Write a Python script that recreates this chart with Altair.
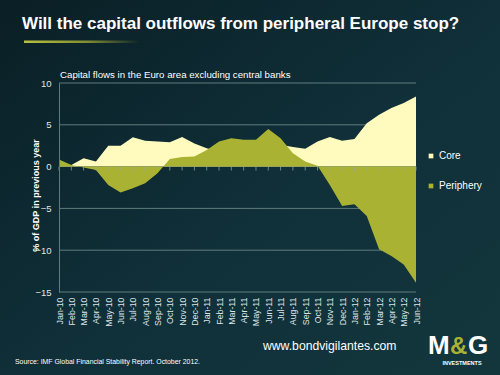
import altair as alt
import pandas as pd

# ---------------- data ----------------
months = ["Jan-10", "Feb-10", "Mar-10", "Apr-10", "May-10", "Jun-10", "Jul-10", "Aug-10",
          "Sep-10", "Oct-10", "Nov-10", "Dec-10", "Jan-11", "Feb-11", "Mar-11", "Apr-11",
          "May-11", "Jun-11", "Jul-11", "Aug-11", "Sep-11", "Oct-11", "Nov-11", "Dec-11",
          "Jan-12", "Feb-12", "Mar-12", "Apr-12", "May-12", "Jun-12"]
core = [0.4, 0.2, 1.0, 0.6, 2.5, 2.5, 3.5, 3.1, 3.0, 2.9, 3.55, 2.75, 2.2, 1.8, 2.2, 2.6,
        2.9, 3.1, 2.6, 2.35, 2.15, 3.0, 3.55, 3.1, 3.3, 5.2, 6.2, 7.0, 7.6, 8.4]
periphery = [0.84, 0.2, -0.1, -0.4, -2.2, -3.1, -2.6, -2.0, -0.8, 0.9, 1.15, 1.2, 2.0, 3.0,
             3.4, 3.2, 3.2, 4.5, 3.4, 1.6, 0.6, 0.1, -2.2, -4.7, -4.5, -5.9, -9.9, -10.7,
             -11.7, -13.9]
series_names = ["Core", "Periphery"]
series_colors = ["#fffbbf", "#a9b233"]
y_ticks = [-15, -10, -5, 0, 5, 10]
grid_values = [-15, -10, -5, 5, 10]
y_domain = [-15, 10]

TITLE = "Will the capital outflows from peripheral Europe stop?"
SUBTITLE = "Capital flows in the Euro area excluding central banks"
Y_TITLE = "% of GDP in previous year"
URL = "www.bondvigilantes.com"
SOURCE = "Source: IMF  Global Financial  Stability Report. October 2012."

rows = []
for m, c, p in zip(months, core, periphery):
    rows.append({"month": m, "series": "Core", "value": c})
    rows.append({"month": m, "series": "Periphery", "value": p})
df = pd.DataFrame(rows)
month_df = pd.DataFrame({"month": months})
grid_df = pd.DataFrame({"v": grid_values})
one = pd.DataFrame({"k": [0]})

W, H = 357, 209
PL, PT = 59, 83
BG = "#0f2a31"
GRID = "#5f7c7e"
LABEL = "#dfe7e7"
FONT = "Liberation Sans"

x_scale = alt.Scale(type="point", padding=0)
y_scale = alt.Scale(domain=y_domain, nice=False, zero=False)

x_axis = alt.Axis(title=None, labelAngle=270, labelFontSize=8.8, labelColor=LABEL,
                  ticks=False, domain=False, grid=False, labelPadding=5,
                  labelFont=FONT, zindex=2)
y_axis = alt.Axis(values=y_ticks, title=Y_TITLE, grid=False,
                  domainColor=GRID, ticks=False, labelFontSize=9.5,
                  labelColor=LABEL, labelPadding=8, labelFont=FONT,
                  titleFontSize=9, titleFontWeight="bold", titleColor="white",
                  titleFont=FONT, titleX=35 - PL, titleY=195 - PT,
                  titleAlign="center", titleBaseline="middle", zindex=2)

bg = alt.Chart(one).mark_rect(
    color=alt.LinearGradient(gradient="linear",
                             stops=[alt.GradientStop(color="#0a1f25", offset=0),
                                    alt.GradientStop(color="#10303a", offset=0.55),
                                    alt.GradientStop(color="#13363c", offset=1)],
                             x1=0, x2=1, y1=0, y2=1)
).encode(x=alt.value(-PL), x2=alt.value(500 - PL), y=alt.value(-PT), y2=alt.value(375 - PT))

underline = alt.Chart(one).mark_rect(
    color=alt.LinearGradient(gradient="linear",
                             stops=[alt.GradientStop(color="#b9c03e", offset=0),
                                    alt.GradientStop(color="#7f8c33", offset=0.55),
                                    alt.GradientStop(color="#0c242a", offset=1)],
                             x1=0, x2=1, y1=0, y2=0)
).encode(x=alt.value(24 - PL), x2=alt.value(140 - PL), y=alt.value(40.5 - PT), y2=alt.value(43 - PT))

grid = alt.Chart(grid_df).mark_rule(color=GRID, strokeWidth=1).encode(
    y=alt.Y("v:Q", scale=y_scale, axis=y_axis),
    x=alt.value(0), x2=alt.value(W)
)

areas = alt.Chart(df).mark_area(opacity=1, strokeWidth=0).encode(
    x=alt.X("month:O", sort=months, scale=x_scale, axis=x_axis),
    y=alt.Y("value:Q", stack=None, scale=y_scale, axis=y_axis),
    color=alt.Color("series:N",
                    scale=alt.Scale(domain=series_names, range=series_colors),
                    legend=alt.Legend(orient="none", legendX=426 - PL, legendY=151 - PT,
                                      title=None, symbolType="square", symbolSize=22,
                                      symbolStrokeWidth=0, labelFontSize=10,
                                      labelColor="white", labelFont=FONT,
                                      rowPadding=20, labelOffset=3, zindex=2)),
    order=alt.Order("series:N")
)

zero_ticks = alt.Chart(month_df).mark_tick(orient="vertical", size=4, thickness=1,
                                           color="#9aabab", yOffset=2).encode(
    x=alt.X("month:O", sort=months, scale=x_scale, axis=x_axis),
    y=alt.datum(0)
)


def txt(s, x, y, size, weight="normal", color="white", align="left"):
    return alt.Chart(one).mark_text(text=s, fontSize=size, fontWeight=weight, color=color,
                                    align=align, baseline="alphabetic", font=FONT).encode(
        x=alt.value(x - PL), y=alt.value(y - PT))


title = txt(TITLE, 22, 29, 17, weight="bold")
subtitle = txt(SUBTITLE, 60, 77.5, 9.7)
url = txt(URL, 263, 350, 12.2)
source = txt(SOURCE, 15, 364, 6.9)
logo_m = txt("M", 428, 354, 26, weight="bold")
logo_amp = txt("&", 450, 354, 24, weight="bold", color="#a9b233")
logo_g = txt("G", 468, 354, 26, weight="bold")
logo_inv = txt("INVESTMENTS", 462, 365, 5.5, weight="bold", align="center")

chart = alt.layer(bg, underline, grid, areas, zero_ticks, title, subtitle, url, source,
                  logo_m, logo_amp, logo_g, logo_inv).properties(
    width=W, height=H,
    padding={"left": PL, "top": PT, "right": 500 - PL - W, "bottom": 375 - PT - H},
    autosize=alt.AutoSizeParams(type="none"),
    background=BG
).configure_view(stroke=None)

chart.save("out.html", embed_options={"renderer": "svg", "actions": False})
